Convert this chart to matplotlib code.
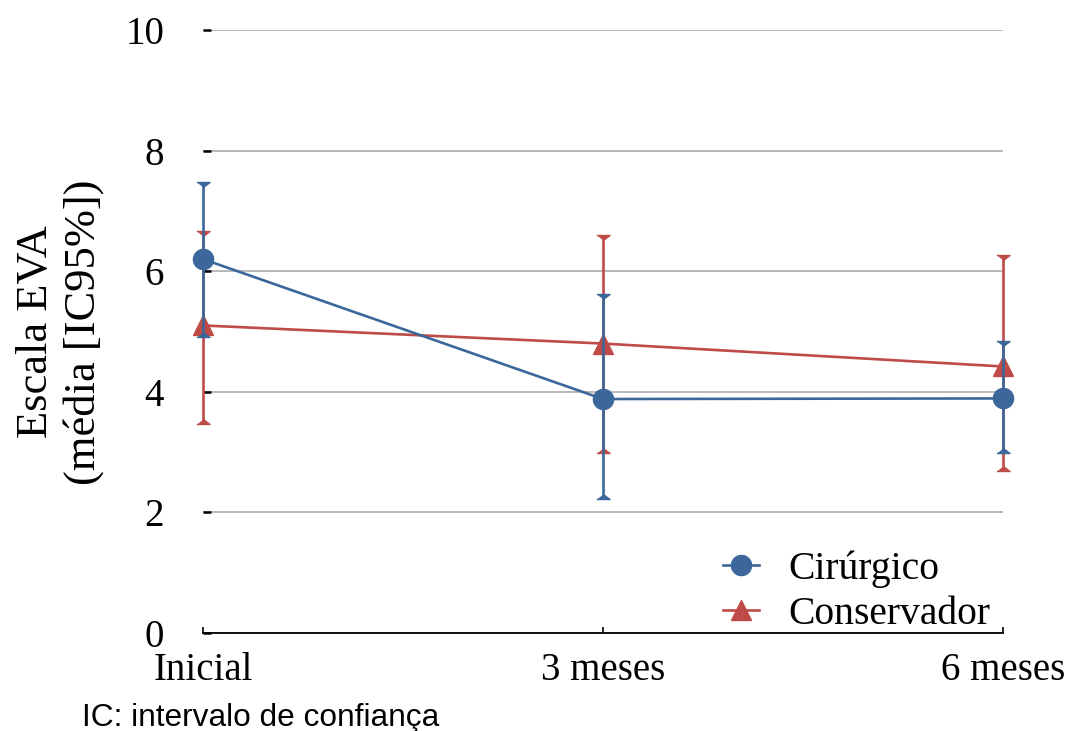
import matplotlib
matplotlib.use("Agg")
import matplotlib.pyplot as plt
from matplotlib.lines import Line2D
import numpy as np

categories = ["Inicial", "3 meses", "6 meses"]
cir_mean = [6.2, 3.88, 3.89]
cir_low = [4.91, 2.23, 2.98]
cir_high = [7.48, 5.62, 4.84]
con_mean = [5.1, 4.8, 4.42]
con_low = [3.47, 2.98, 2.69]
con_high = [6.67, 6.6, 6.27]
yticks = [0, 2, 4, 6, 8, 10]

BLUE = "#3C679A"
RED = "#BE4B48"
SERIF = ["Liberation Serif", "DejaVu Serif"]

plt.rcParams["font.family"] = SERIF

fig = plt.figure(figsize=(10.7, 7.31), dpi=100)
ax = fig.add_axes([203/1070, 1-633/731, (1003-203)/1070, (633-30)/731])

x = np.arange(len(categories))

top_cap = [(-1, 0), (1, 0), (0, -0.75)]
bot_cap = [(-1, 0), (1, 0), (0, 0.75)]

LW = 1.9

def draw(mean, low, high, color, marker, ms, z):
    ax.vlines(x, low, high, color=color, lw=LW, zorder=z, clip_on=False)
    ax.plot(x, high, linestyle="none", marker=top_cap, ms=9.5, color=color, zorder=z, clip_on=False)
    ax.plot(x, low, linestyle="none", marker=bot_cap, ms=9.5, color=color, zorder=z, clip_on=False)
    ax.plot(x, mean, color=color, lw=LW, marker=marker, ms=ms, zorder=z + 0.5, clip_on=False)

draw(con_mean, con_low, con_high, RED, "^", 14, 3)
draw(cir_mean, cir_low, cir_high, BLUE, "o", 14.5, 4)

ax.set_xlim(0, 2)
ax.set_ylim(0, 10)
ax.set_yticks(yticks)
ax.set_yticklabels([str(t) for t in yticks])
ax.set_xticks(x)
ax.set_xticklabels(categories)
ax.yaxis.grid(True, color="#A6A6A6", lw=1.1, zorder=0)
ax.set_axisbelow(True)
for s in ["top", "right", "left"]:
    ax.spines[s].set_visible(False)
ax.spines["bottom"].set_color("black")
ax.spines["bottom"].set_linewidth(1.3)
ax.tick_params(axis="y", direction="in", length=6, width=1.8, pad=28, labelsize=28, colors="black")
ax.tick_params(axis="x", direction="in", length=4, width=1.2, pad=14, labelsize=28)

fig.text(60/1070, 1-332/731, "Escala EVA\n(média [IC95%])", rotation=90,
         ha="center", va="center", fontsize=32, multialignment="center",
         linespacing=1.2)

handles = [
    Line2D([], [], color=BLUE, lw=LW, marker="o", ms=14.5),
    Line2D([], [], color=RED, lw=LW, marker="^", ms=14),
]
leg = fig.legend(handles, ["Cirúrgico", "Conservador"], loc="center left",
                 bbox_to_anchor=(723/1070, 1-592/731), frameon=False,
                 fontsize=28.5, handlelength=0.9, handletextpad=0.75,
                 labelspacing=0.2, borderpad=0, borderaxespad=0)

fig.text(82/1070, 1-718/731, "IC: intervalo de confiança", ha="left", va="center",
         fontsize=22.8, family=["Liberation Sans", "DejaVu Sans"])

fig.savefig("out.png", dpi=100)
